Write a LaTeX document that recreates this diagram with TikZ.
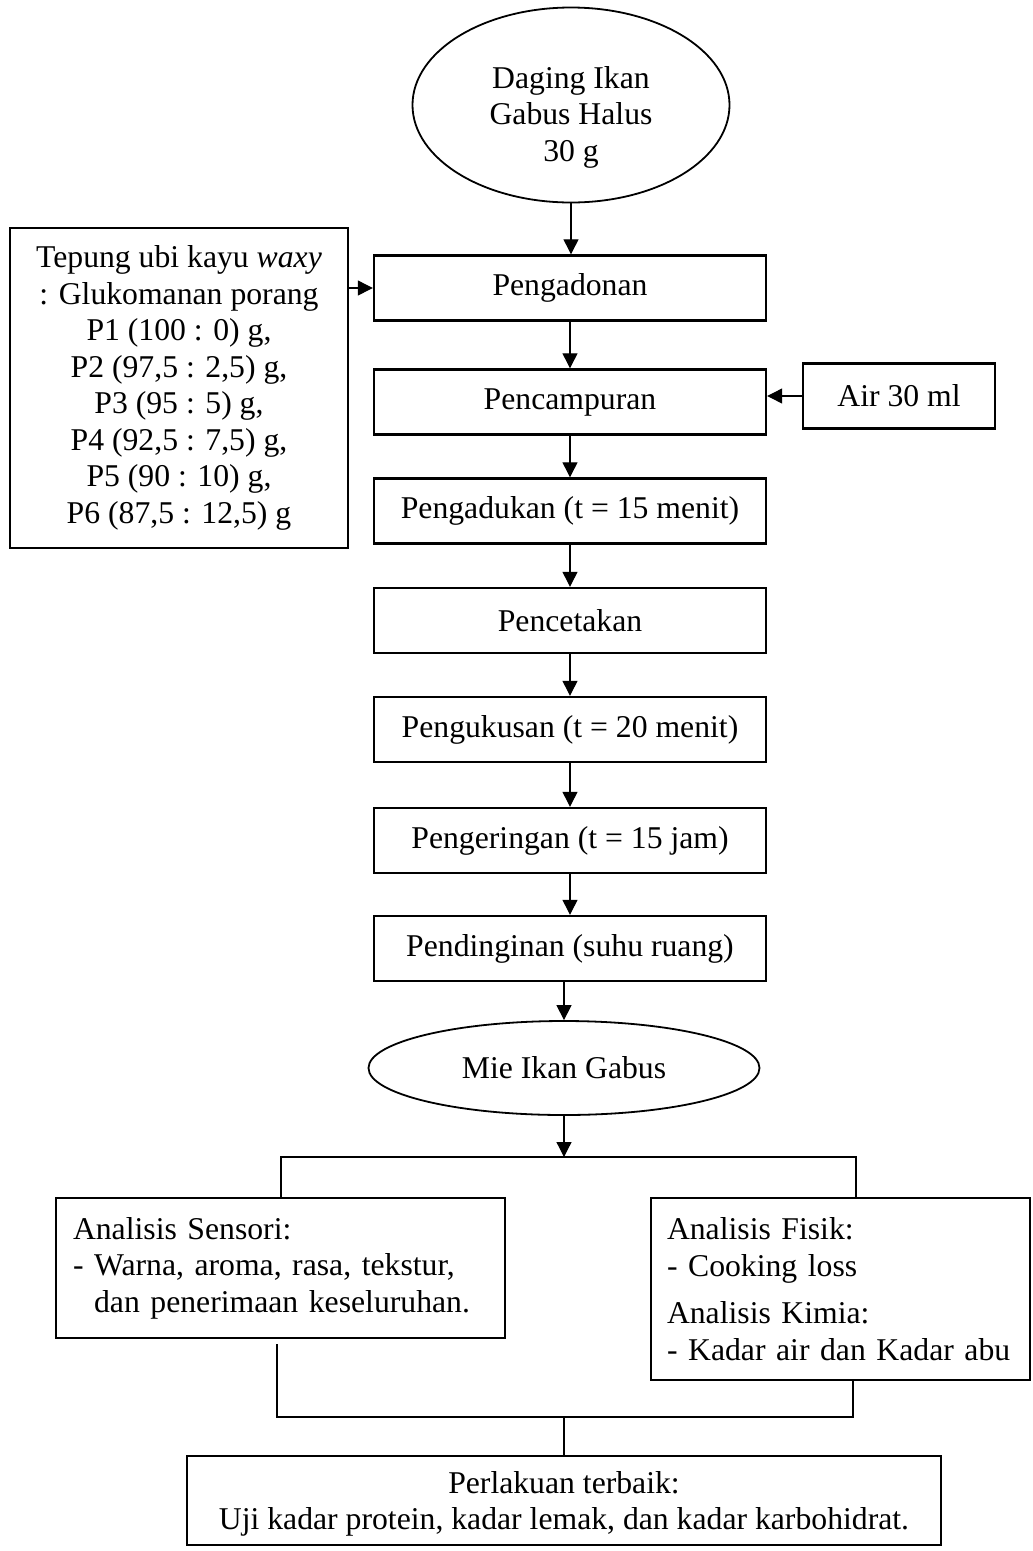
\documentclass[tikz,border=0pt]{standalone}
\usepackage{fontspec}
\setmainfont{Liberation Serif}
\usepackage{tikz}
\usetikzlibrary{shapes.geometric, arrows.meta, positioning, calc}
\usepackage{xcolor}
\definecolor{garis}{HTML}{000000}

\tikzset{
  prosesbox/.style={draw=garis, line width=2.4pt, minimum width=392pt, minimum height=65pt, inner sep=0pt, align=center},
  ovalbox/.style={draw=garis, ellipse, line width=1.8pt, inner sep=0pt, align=center},
  kotakkiri/.style={draw=garis, line width=2.4pt, align=left, inner ysep=0pt},
  arr/.style={draw=garis, line width=1.2pt, -{Triangle[length=15pt, width=15pt]}},
  sambung/.style={draw=garis, line width=1.5pt}
}

\begin{document}
\begin{tikzpicture}[x=1pt, y=-1pt, every node/.style={font=\fontsize{31.7}{36.5}\selectfont}]
\useasboundingbox (0,0) rectangle (1033,1551);

\node[ovalbox, minimum width=317pt, minimum height=195pt] (daging) at (571,105) {};
\node[align=center] (dagingteks) at (571,117) {Daging Ikan\\Gabus Halus\\30 g};

\node[prosesbox] (pengadonan) at (570,288) {Pengadonan};
\node[prosesbox] (pencampuran) at (570,402) {Pencampuran};
\node[prosesbox] (pengadukan) at (570,511) {Pengadukan (t = 15 menit)};
\node[prosesbox] (pencetakan) at (570,620.5) {Pencetakan};
\node[prosesbox] (pengukusan) at (570,729.5) {Pengukusan (t = 20 menit)};
\node[prosesbox] (pengeringan) at (570,840.5) {Pengeringan (t = 15 jam)};
\node[prosesbox] (pendinginan) at (570,948.5) {Pendinginan (suhu ruang)};

\node[draw=garis, line width=2.4pt, minimum width=338pt, minimum height=320pt, inner sep=0pt, align=center] (bahan) at (179,388)
  {Tepung ubi kayu \textit{waxy}\\: Glukomanan porang\\P1 (100 : 0) g,\\P2 (97,5 : 2,5) g,\\P3 (95 : 5) g,\\P4 (92,5 : 7,5) g,\\P5 (90 : 10) g,\\P6 (87,5 : 12,5) g};
\node[prosesbox, minimum width=192pt] (air) at (899,396) {Air 30 ml};

\node[ovalbox, minimum width=391pt, minimum height=94pt] (mie) at (564,1068) {Mie Ikan Gabus};

\node[kotakkiri, minimum width=449pt, minimum height=140pt, text width=415pt, inner xsep=17pt] (sensori) at (280.5,1268)
  {Analisis Sensori:\\- Warna, aroma, rasa, tekstur,\\\hphantom{- }dan penerimaan keseluruhan.};
\node[kotakkiri, minimum width=379pt, minimum height=182pt, text width=347pt, inner xsep=16pt] (fisik) at (840.5,1289)
  {Analisis Fisik:\\- Cooking loss\\[11pt]Analisis Kimia:\\- Kadar air dan Kadar abu};

\node[prosesbox, minimum width=754pt, minimum height=89pt] (hasil) at (564,1500.5) {};
\node[align=center] (hasilteks) at (564,1504) {Perlakuan terbaik:\\Uji kadar protein, kadar lemak, dan kadar karbohidrat.};

\coordinate (cabang) at (564,1157);
\coordinate (gabung) at (564,1417);

\draw[arr] (daging.south) -- (daging.south |- pengadonan.north);
\draw[arr] (pengadonan) -- (pencampuran);
\draw[arr] (pencampuran) -- (pengadukan);
\draw[arr] (pengadukan) -- (pencetakan);
\draw[arr] (pencetakan) -- (pengukusan);
\draw[arr] (pengukusan) -- (pengeringan);
\draw[arr] (pengeringan) -- (pendinginan);
\draw[arr] (pendinginan.south -| mie.north) -- (mie.north);
\draw[arr] (bahan.east |- pengadonan) -- (pengadonan.west);
\draw[arr] (air.west) -- (air.west -| pencampuran.east);

\draw[arr] (mie.south) -- (cabang);
\draw[sambung] ([xshift=0.5pt]sensori.north) |- (cabang) -| ([xshift=15.5pt]fisik.north);
\draw[sambung] ([shift={(-3.5pt,-5pt)}]sensori.south) |- (gabung) -| ([xshift=12.5pt]fisik.south);
\draw[sambung] (gabung) -- (hasil.north);
\end{tikzpicture}
\end{document}
